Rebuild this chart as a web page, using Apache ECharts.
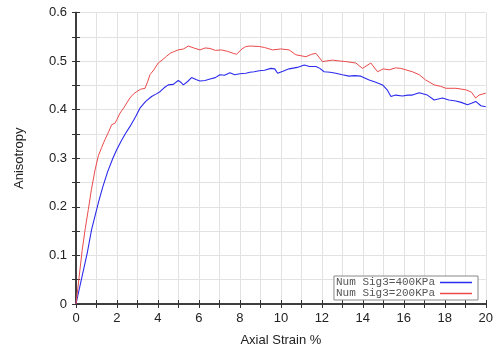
<!DOCTYPE html>
<html>
<head>
<meta charset="utf-8">
<script src="https://cdn.jsdelivr.net/npm/echarts@6/dist/echarts.min.js"></script>
<style>html,body{margin:0;padding:0;background:#fff}#c{width:496px;height:352px}</style>
</head>
<body>
<div id="c"></div>
<script>
var strain200 = [0, 0.15, 0.3, 0.45, 0.6, 0.75, 0.93, 1.09, 1.25, 1.41, 1.6, 1.74, 1.9, 2.0, 2.15, 2.35, 2.63, 2.8, 2.96, 3.15, 3.37, 3.5, 3.61, 3.8, 4.01, 4.2, 4.42, 4.6, 4.75, 4.99, 5.25, 5.48, 5.75, 6.05, 6.3, 6.54, 6.8, 7.1, 7.4, 7.67, 7.83, 8.1, 8.29, 8.49, 8.94, 9.2, 9.59, 10.0, 10.4, 10.73, 11.22, 11.5, 11.71, 12.03, 12.52, 12.9, 13.17, 13.66, 13.98, 14.39, 14.72, 15.0, 15.28, 15.6, 15.85, 16.1, 16.42, 16.75, 17.07, 17.48, 17.8, 18.05, 18.54, 19.02, 19.3, 19.51, 19.67, 20];
var aniso200 = [0, 0.055, 0.11, 0.155, 0.194, 0.235, 0.276, 0.305, 0.322, 0.338, 0.355, 0.369, 0.372, 0.38, 0.393, 0.405, 0.424, 0.432, 0.437, 0.442, 0.444, 0.458, 0.472, 0.482, 0.496, 0.502, 0.51, 0.516, 0.519, 0.523, 0.525, 0.531, 0.527, 0.523, 0.527, 0.526, 0.522, 0.523, 0.52, 0.516, 0.514, 0.525, 0.530, 0.531, 0.530, 0.528, 0.523, 0.525, 0.523, 0.513, 0.509, 0.514, 0.516, 0.499, 0.502, 0.5, 0.499, 0.496, 0.485, 0.496, 0.478, 0.484, 0.482, 0.486, 0.485, 0.482, 0.478, 0.472, 0.461, 0.451, 0.448, 0.444, 0.444, 0.441, 0.436, 0.424, 0.430, 0.434];
var strain400 = [0, 0.25, 0.55, 0.76, 1.09, 1.3, 1.55, 1.8, 1.98, 2.2, 2.4, 2.63, 2.9, 3.12, 3.4, 3.69, 3.9, 4.1, 4.3, 4.5, 4.75, 4.99, 5.1, 5.24, 5.45, 5.64, 5.85, 6.05, 6.3, 6.54, 6.8, 7.02, 7.25, 7.51, 7.75, 8.0, 8.29, 8.49, 8.7, 8.94, 9.2, 9.51, 9.7, 9.84, 10.1, 10.4, 10.8, 11.14, 11.4, 11.71, 11.9, 12.11, 12.4, 12.68, 13.0, 13.33, 13.6, 13.9, 14.31, 14.6, 14.96, 15.2, 15.37, 15.6, 15.93, 16.2, 16.42, 16.75, 17.15, 17.48, 17.89, 18.2, 18.54, 18.8, 19.11, 19.3, 19.51, 19.76, 20];
var aniso400 = [0, 0.048, 0.105, 0.153, 0.208, 0.24, 0.273, 0.3, 0.317, 0.335, 0.35, 0.365, 0.385, 0.403, 0.417, 0.427, 0.432, 0.437, 0.445, 0.451, 0.452, 0.46, 0.457, 0.451, 0.458, 0.466, 0.462, 0.459, 0.46, 0.463, 0.466, 0.472, 0.471, 0.476, 0.472, 0.474, 0.475, 0.477, 0.478, 0.48, 0.481, 0.485, 0.484, 0.475, 0.479, 0.484, 0.487, 0.492, 0.489, 0.489, 0.485, 0.478, 0.477, 0.475, 0.472, 0.469, 0.47, 0.469, 0.461, 0.457, 0.451, 0.44, 0.427, 0.43, 0.428, 0.43, 0.43, 0.435, 0.43, 0.42, 0.424, 0.42, 0.418, 0.415, 0.41, 0.413, 0.417, 0.408, 0.406];
var seriesNames = ['Num Sig3=400KPa', 'Num Sig3=200KPa'];
var xTickLabels = ['0','2','4','6','8','10','12','14','16','18','20'];
var yTickLabels = ['0','0.1','0.2','0.3','0.4','0.5','0.6'];

function pairs(xs, ys){ return xs.map(function(x,i){ return [x, ys[i]]; }); }

var font = 'Liberation Sans';
var axisLineStyle = {color:'#333', width:1.5};
var chart = echarts.init(document.getElementById('c'), null, {renderer:'canvas'});
chart.setOption({
  animation:false,
  backgroundColor:'#fff',
  grid:{left:76, right:10, top:12.5, bottom:47.5, containLabel:false},
  legend:{
    orient:'vertical', right:18, bottom:52,
    data:seriesNames,
    align:'right',
    icon:'rect',
    itemWidth:32, itemHeight:1.5, itemGap:0,
    padding:[1,6,1,2],
    borderColor:'#888', borderWidth:1, backgroundColor:'#fff',
    textStyle:{fontFamily:'Liberation Mono', fontSize:11, lineHeight:10, color:'#555', padding:[0,0,0,0]}
  },
  xAxis:[{
    type:'value', min:0, max:20, interval:1,
    name:'Axial Strain %', nameLocation:'middle', nameGap:30,
    nameTextStyle:{fontFamily:font, fontSize:13, color:'#222'},
    axisLine:{show:true, lineStyle:axisLineStyle},
    axisTick:{show:true, inside:true, length:4, lineStyle:{color:'#333'}},
    axisLabel:{fontFamily:font, fontSize:13, color:'#222', margin:8,
      formatter:function(v){ var s=String(v); return xTickLabels.indexOf(s)>=0 ? s : ''; }},
    splitLine:{show:true, lineStyle:{color:'#e2e2e2', width:1}}
  },{
    type:'value', min:0, max:20, interval:1, position:'top',
    axisLine:{show:true, lineStyle:axisLineStyle},
    axisTick:{show:true, inside:true, length:4, lineStyle:{color:'#333'}},
    axisLabel:{show:false}, splitLine:{show:false}
  }],
  yAxis:[{
    type:'value', min:0, max:0.6, interval:0.05,
    name:'Anisotropy', nameLocation:'middle', nameGap:50,
    nameTextStyle:{fontFamily:font, fontSize:13, color:'#222'},
    axisLine:{show:true, lineStyle:axisLineStyle},
    axisTick:{show:true, inside:true, length:4, lineStyle:{color:'#333'}},
    axisLabel:{fontFamily:font, fontSize:13, color:'#222', margin:9,
      formatter:function(v){ var s=String(Math.round(v*100)/100); return yTickLabels.indexOf(s)>=0 ? s : ''; }},
    splitLine:{show:true, lineStyle:{color:'#e2e2e2', width:1}}
  },{
    type:'value', min:0, max:0.6, interval:0.05, position:'right',
    axisLine:{show:true, lineStyle:axisLineStyle},
    axisTick:{show:true, inside:true, length:4, lineStyle:{color:'#333'}},
    axisLabel:{show:false}, splitLine:{show:false}
  }],
  series:[{
    name:seriesNames[0], type:'line', showSymbol:false, symbol:'none',
    data:pairs(strain400, aniso400),
    lineStyle:{color:'#2b2bee', width:1.1}, itemStyle:{color:'#2b2bee'}
  },{
    name:seriesNames[1], type:'line', showSymbol:false, symbol:'none',
    data:pairs(strain200, aniso200),
    lineStyle:{color:'#ea4a4a', width:1}, itemStyle:{color:'#ea4a4a'}
  }]
});
</script>
</body>
</html>
